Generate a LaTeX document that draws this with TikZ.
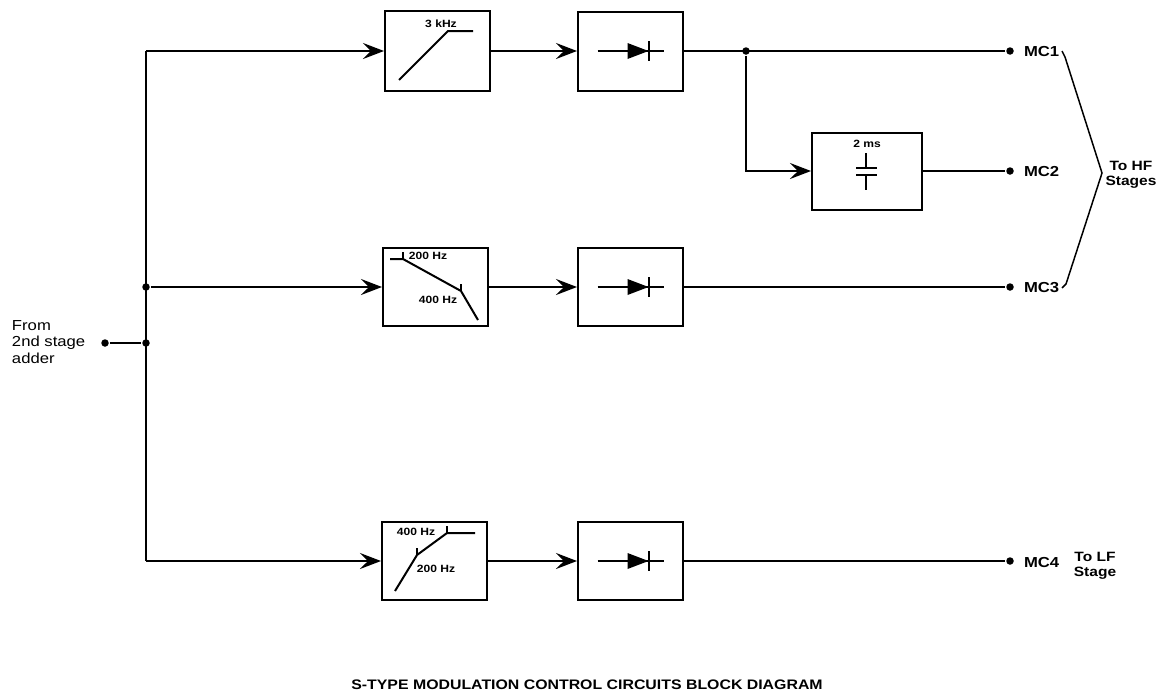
\documentclass[tikz,border=0pt]{standalone}
\usepackage{fontspec}
\setmainfont[FakeStretch=1.15]{Liberation Sans}
\usetikzlibrary{arrows.meta,calc}
\begin{document}
\begin{tikzpicture}[x=1pt,y=-1pt, line width=2pt,
 blk/.style={draw, rectangle, minimum width=105pt, minimum height=79pt, inner sep=0pt},
 arr/.style={-{Stealth[length=21pt,width=16pt,inset=8pt]}},
 dot/.style={circle, fill, inner sep=0pt, minimum size=7.5pt},
 lbl/.style={font=\fontsize{10.5}{12}\selectfont\bfseries, inner sep=0pt},
 mc/.style={font=\fontsize{14.5}{16}\selectfont\bfseries, anchor=west, inner sep=0pt},
 txt/.style={font=\fontsize{13.5}{15}\selectfont\bfseries, align=left, inner sep=0pt},
 diode/.pic={\draw (-33,0) -- (33,0); \fill (-3,-8) -- (18,0) -- (-3,8) -- cycle; \draw (18,-10) -- (18,10);},
]
\useasboundingbox (0,0) rectangle (1169,697);
% blocks
\node[blk, minimum height=80pt] (F1) at (437.5,51) {};
\node[blk] (D1) at (630.5,51) {};
\node[blk, minimum width=110pt, minimum height=77pt] (C) at (867,171) {};
\node[blk, minimum height=78pt] (F2) at (435.5,287) {};
\node[blk, minimum height=78pt] (D2) at (630.5,287) {};
\node[blk, minimum height=78pt] (F4) at (434.5,561) {};
\node[blk, minimum height=78pt] (D4) at (630.5,561) {};
% diodes
\pic at (D1.center) {diode};
\pic at (D2.center) {diode};
\pic at (D4.center) {diode};
% filter 1
\draw (399,80) -- (448,31) -- (473,31);
\node[lbl] (L1) at (441,24) {3 kHz};
% filter 2
\draw (390,259) -- (403,259) -- (461,291) -- (478,320);
\draw (403,252) -- (403,259) (461,284) -- (461,291);
\node[lbl] (L2) at (428,256) {200 Hz};
\node[lbl] (L3) at (438,300) {400 Hz};
% filter 4
\draw (395,591) -- (417,555) -- (447,533) -- (475,533);
\draw (417,548) -- (417,555) (447,526) -- (447,533);
\node[lbl] (L4) at (416,532) {400 Hz};
\node[lbl] (L5) at (436,569) {200 Hz};
% capacitor
\draw (866,153) -- (866,168) (856,168) -- (877,168) (856,175) -- (877,175) (866,175) -- (866,190);
\node[lbl] (L6) at (867,144) {2 ms};
% bus
\coordinate (B1) at (146,51);
\coordinate (B4) at (146,561);
\node[dot] (J3) at (146,287) {};
\node[dot] (J2) at (146,343) {};
\node[dot] (IN) at (105,343) {};
\draw (B1) -- (B4);
\draw (IN) -- (J2);
\draw[arr] (B1) -- (F1.west);
\draw[arr] (J3) -- (F2.west);
\draw[arr] (B4) -- (F4.west);
\draw[arr] (F1.east) -- (D1.west);
\draw[arr] (F2.east) -- (D2.west);
\draw[arr] (F4.east) -- (D4.west);
% outputs
\node[dot] (M1) at (1010,51) {};
\node[dot] (M2) at (1010,171) {};
\node[dot] (M3) at (1010,287) {};
\node[dot] (M4) at (1010,561) {};
\node[dot] (J1) at (746,51) {};
\draw (D1.east) -- (M1);
\draw[arr] (J1) |- (C.west);
\draw (C.east) -- (M2);
\draw (D2.east) -- (M3);
\draw (D4.east) -- (M4);
\node[mc] (T1) at (1023,52) {MC1};
\node[mc] (T2) at (1023,172) {MC2};
\node[mc] (T3) at (1023,288) {MC3};
\node[mc] (T4) at (1023,562) {MC4};
% brace
\draw[line width=1.5pt] (1062,51) -- (1065,57) -- (1102,173) -- (1066,284) -- (1062,288);
\node[txt, align=center] (HF) at (1131,175) {To HF\\Stages};
\node[txt, align=center] (LF) at (1095,566) {To LF\\Stage};
\node[font=\fontsize{14.5}{16.5}\selectfont, align=left, anchor=west, inner sep=0pt] (FR) at (11,342) {From\\2nd stage\\adder};
\node[font=\fontsize{13.8}{16}\selectfont\bfseries, inner sep=0pt] (TT) at (587,685) {S-TYPE MODULATION CONTROL CIRCUITS BLOCK DIAGRAM};
\end{tikzpicture}
\end{document}
